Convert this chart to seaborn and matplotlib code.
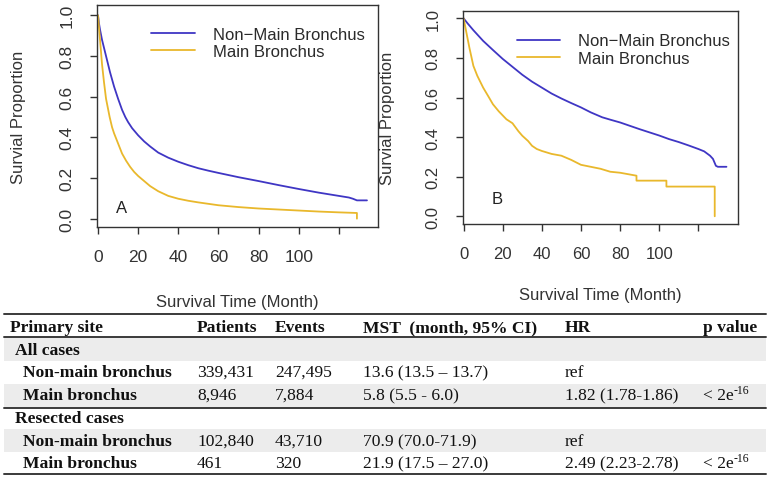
import matplotlib
matplotlib.use("Agg")
import matplotlib.pyplot as plt
import seaborn as sns
from matplotlib.lines import Line2D
from matplotlib.patches import Rectangle

# Kaplan-Meier curves (months, survival proportion)
a_nonmain_t = [0, 0.5, 1, 2, 3, 4, 5, 6, 7, 8, 10, 12, 13.6, 15, 17, 20, 23, 26, 30, 35, 40, 45, 50, 55, 60,
               70, 80, 90, 100, 110, 120, 125, 127, 129, 134]
a_nonmain_s = [1.0, 0.96, 0.93, 0.88, 0.84, 0.80, 0.76, 0.72, 0.685, 0.65, 0.59, 0.535, 0.50, 0.475, 0.445,
               0.41, 0.38, 0.355, 0.325, 0.30, 0.28, 0.263, 0.248, 0.236, 0.225, 0.204, 0.185, 0.165, 0.146,
               0.128, 0.112, 0.104, 0.098, 0.09, 0.09]
a_main_t = [0, 0.5, 1, 2, 3, 4, 5, 5.8, 7, 8, 10, 12, 14, 16, 18, 20, 23, 26, 30, 35, 40, 45, 50, 60, 70,
            80, 90, 100, 110, 120, 129, 129]
a_main_s = [1.0, 0.94, 0.88, 0.76, 0.67, 0.59, 0.54, 0.50, 0.45, 0.42, 0.37, 0.32, 0.285, 0.255, 0.23, 0.21,
            0.185, 0.16, 0.135, 0.112, 0.098, 0.088, 0.08, 0.066, 0.057, 0.05, 0.045, 0.04, 0.035, 0.031,
            0.028, 0.0]

b_nonmain_t = [0, 2, 5, 10, 15, 20, 25, 30, 35, 40, 45, 50, 55, 60, 65, 70.9, 75, 80, 85, 90, 95, 100, 105,
               110, 115, 120, 123, 126, 127.5, 129, 130, 134.4]
b_nonmain_s = [1.0, 0.975, 0.94, 0.886, 0.84, 0.795, 0.755, 0.715, 0.68, 0.65, 0.62, 0.595, 0.572, 0.55,
               0.525, 0.50, 0.488, 0.474, 0.457, 0.44, 0.424, 0.408, 0.39, 0.375, 0.358, 0.34, 0.328, 0.306,
               0.29, 0.255, 0.25, 0.25]
b_main_t = [0, 1, 2, 3, 5, 7, 10, 13, 15, 18, 21.9, 25, 28, 30, 33, 35, 37.4, 40, 45, 50, 55, 60, 65, 70, 75,
            80, 88.4, 88.4, 103.7, 103.7, 128.4, 128.4]
b_main_s = [1.0, 0.95, 0.9, 0.85, 0.76, 0.71, 0.65, 0.6, 0.566, 0.53, 0.49, 0.47, 0.43, 0.407, 0.38, 0.356,
            0.34, 0.33, 0.315, 0.306, 0.285, 0.26, 0.25, 0.24, 0.225, 0.22, 0.205, 0.18, 0.18, 0.15, 0.15, 0.0]

series_labels = ["Non\u2212Main Bronchus", "Main Bronchus"]
panel_labels = ["A", "B"]
x_ticks = [0, 20, 40, 60, 80, 100, 120]
x_tick_labels = ["0", "20", "40", "60", "80", "100", ""]
y_ticks = [0.0, 0.2, 0.4, 0.6, 0.8, 1.0]

# table contents
table_header = ["Primary site", "Patients", "Events", "MST  (month, 95% CI)", "HR", "p value"]
groups = ["All cases", "Resected cases"]
sites = ["Non-main bronchus", "Main bronchus"]
patients = [["339,431", "8,946"], ["102,840", "461"]]
events = [["247,495", "7,884"], ["43,710", "320"]]
mst = [["13.6 (13.5 \u2013 13.7)", "5.8 (5.5 - 6.0)"], ["70.9 (70.0-71.9)", "21.9 (17.5 \u2013 27.0)"]]
hr = [["ref", "1.82 (1.78-1.86)"], ["ref", "2.49 (2.23-2.78)"]]
pvals = [["", "< 2e"], ["", "< 2e"]]
pval_exp = "-16"

blue = "#3f36c4"
gold = "#e9b82c"
ink = "#333333"

sns.set_style("white")
plt.rcParams["font.family"] = ["Liberation Sans", "DejaVu Sans"]

W, H = 772, 481
fig = plt.figure(figsize=(W / 100, H / 100), dpi=100)


def fx(x):
    return x / W


def fy(y):
    return 1 - y / H


def draw_panel(rect, t1, s1, t2, s2, letter, letter_xy, xlim, ylim, leg_y, label_x, xlabel_y, fs):
    ax = fig.add_axes(rect)
    sns.lineplot(x=t1, y=s1, ax=ax, color=blue, lw=1.3, estimator=None, sort=False)
    sns.lineplot(x=t2, y=s2, ax=ax, color=gold, lw=1.3, estimator=None, sort=False)
    ax.set_xlim(*xlim)
    ax.set_ylim(*ylim)
    ax.set_xticks(x_ticks)
    ax.set_xticklabels(x_tick_labels)
    ax.set_yticks(y_ticks)
    ax.set_yticklabels([f"{v:.1f}" for v in y_ticks], rotation=90, va="center")
    ax.tick_params(axis="both", direction="out", length=5, width=1, color=ink,
                   labelcolor=ink, labelsize=fs, left=True, bottom=True)
    ax.tick_params(axis="x", pad=11)
    ax.tick_params(axis="y", pad=11)
    for sp in ax.spines.values():
        sp.set_color(ink)
        sp.set_linewidth(1.0)
    ax.set_xlabel("Survival Time (Month)", fontsize=12, color=ink)
    ax.set_ylabel("Survial Proportion", fontsize=12, color=ink)
    ax.xaxis.set_label_coords(0.5, xlabel_y)
    ax.yaxis.set_label_coords(label_x, 0.5)
    ax.text(letter_xy[0], letter_xy[1], letter, fontsize=12, color="#222222",
            ha="center", va="center")
    handles = [Line2D([], [], color=blue, lw=1.3), Line2D([], [], color=gold, lw=1.3)]
    ax.legend(handles, series_labels, loc="upper left", bbox_to_anchor=leg_y,
              frameon=False, fontsize=12, handlelength=2.6, handletextpad=1.1,
              labelspacing=0.15, labelcolor="#2a2a2a")
    return ax


draw_panel([fx(97), fy(228), fx(378) - fx(97), fy(6) - fy(228)],
           a_nonmain_t, a_nonmain_s, a_main_t, a_main_s,
           panel_labels[0], (11.5, 0.056), (-0.5, 139.5), (-0.041, 1.051),
           (0.14, 0.97), -0.253, -0.30, 12.5)
draw_panel([fx(463), fy(225), fx(738) - fx(463), fy(12) - fy(225)],
           b_nonmain_t, b_nonmain_s, b_main_t, b_main_s,
           panel_labels[1], (17, 0.09), (-0.3, 140.3), (-0.039, 1.037),
           (0.14, 0.965), -0.247, -0.296, 12)

# ---- table below the plots ----
serif = ["Liberation Serif", "DejaVu Serif"]
tfs = 12.6
col_x = [10, 197, 275, 363, 565, 703]
shade = "#ececec"

# alternating shaded bands
for top, bot in [(338, 362), (385, 408), (430, 453)]:
    fig.add_artist(Rectangle((fx(4), fy(bot)), fx(766) - fx(4), fy(top) - fy(bot),
                             transform=fig.transFigure, color=shade, lw=0, zorder=0))

for y in [315, 338, 409, 475]:
    fig.add_artist(Line2D([fx(4), fx(766)], [fy(y), fy(y)], transform=fig.transFigure,
                          color="#3a3a3a", lw=1.4))

for x, txt in zip(col_x, table_header):
    fig.text(fx(x), fy(328), txt, family=serif, fontsize=tfs, fontweight="bold",
             color="#111111", va="center")

row_y = [[351, 373, 396], [419, 442, 464]]
for g in range(2):
    fig.text(fx(15), fy(row_y[g][0]), groups[g], family=serif, fontsize=tfs,
             fontweight="bold", color="#111111", va="center")
    for r in range(2):
        y = fy(row_y[g][r + 1])
        fig.text(fx(23), y, sites[r], family=serif, fontsize=tfs, fontweight="bold",
                 color="#111111", va="center")
        vals = [patients[g][r], events[g][r], mst[g][r], hr[g][r], pvals[g][r]]
        for x, v in zip(col_x[1:], vals):
            fig.text(fx(x), y, v, family=serif, fontsize=tfs, color="#111111", va="center")
        if pvals[g][r]:
            fig.text(fx(734), y + 0.011, pval_exp, family=serif, fontsize=8.5,
                     color="#111111", va="center")

fig.savefig("out.png", dpi=100)
